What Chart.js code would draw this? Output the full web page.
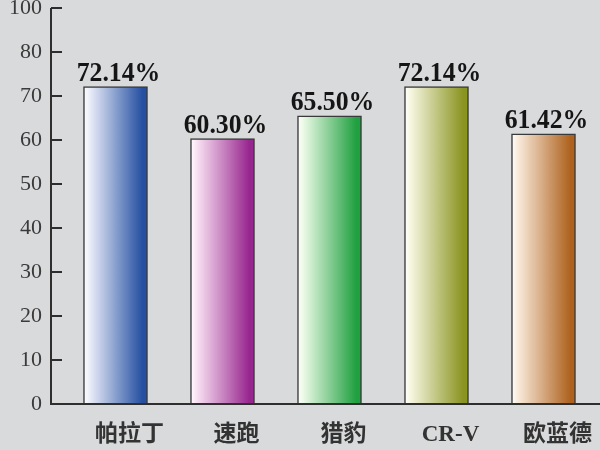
<!DOCTYPE html>
<html lang="zh">
<head>
  <meta charset="UTF-8">
  <title>车型比例</title>
  <script src="https://cdn.jsdelivr.net/npm/chart.js"></script>
  <style>
    html, body {
      margin: 0;
      padding: 0;
      background: #d9dadb;
      overflow: hidden;
    }
    .wrap {
      width: 600px;
      height: 450px;
    }
  </style>
</head>
<body>
  <div class="wrap"><canvas id="chart"></canvas></div>

  <script>
    // data
    const categories = ['帕拉丁', '速跑', '猎豹', 'CR-V', '欧蓝德'];
    const values = [72.14, 60.30, 65.50, 72.14, 61.42];
    const valueLabels = ['72.14%', '60.30%', '65.50%', '72.14%', '61.42%'];
    // the axis jumps from 80 straight to 100 (one step)
    const yTickLabels = ['0', '10', '20', '30', '40', '50', '60', '70', '80', '100'];

    // bar gradients: light left edge -> saturated right edge
    const lightColors = ['#eef0fa', '#fbe6f5', '#edfbe8', '#f8f8e4', '#fbeee0'];
    const darkColors = ['#2550a2', '#98268f', '#20a040', '#8a9420', '#ae621e'];

    const BAR_W = 64;

    function barGradient(ctx) {
      const chart = ctx.chart;
      if (!chart.chartArea) return darkColors[ctx.dataIndex];
      const cx = chart.scales.x.getPixelForValue(ctx.dataIndex);
      const g = chart.ctx.createLinearGradient(cx - BAR_W / 2, 0, cx + BAR_W / 2, 0);
      g.addColorStop(0, '#ffffff');
      g.addColorStop(0.08, lightColors[ctx.dataIndex]);
      g.addColorStop(0.92, darkColors[ctx.dataIndex]);
      g.addColorStop(1, darkColors[ctx.dataIndex]);
      return g;
    }

    // axis lines with inward tick marks, drawn from the y scale
    const axisPlugin = {
      id: 'axisLines',
      afterDatasetsDraw(chart) {
        const { ctx, chartArea } = chart;
        const y = chart.scales.y;
        const x0 = chartArea.left - 11;
        ctx.save();
        ctx.strokeStyle = '#2e2e2e';
        ctx.lineWidth = 2;
        ctx.beginPath();
        ctx.moveTo(x0, chartArea.top);
        ctx.lineTo(x0, chartArea.bottom);
        ctx.lineTo(chartArea.right + 3, chartArea.bottom);
        y.ticks.forEach(t => {
          const py = Math.round(y.getPixelForValue(t.value));
          ctx.moveTo(x0, py);
          ctx.lineTo(chartArea.left, py);
        });
        ctx.stroke();
        ctx.restore();
      }
    };

    // percentage labels above the bars
    const valueLabelPlugin = {
      id: 'valueLabels',
      afterDatasetsDraw(chart) {
        const { ctx } = chart;
        const meta = chart.getDatasetMeta(0);
        ctx.save();
        ctx.fillStyle = '#151515';
        ctx.font = 'bold 28px "Liberation Serif", serif';
        ctx.textAlign = 'center';
        ctx.textBaseline = 'alphabetic';
        meta.data.forEach((bar, i) => {
          ctx.save();
          ctx.translate(bar.x + 3, bar.y - 6);
          ctx.scale(0.92, 1);
          ctx.fillText(valueLabels[i], 0, 0);
          ctx.restore();
        });
        ctx.restore();
      }
    };

    new Chart(document.getElementById('chart'), {
      type: 'bar',
      data: {
        labels: categories,
        datasets: [{
          data: values,
          backgroundColor: barGradient,
          borderColor: '#3a3a3a',
          borderWidth: 1.5,
          borderSkipped: 'bottom',
          barThickness: BAR_W
        }]
      },
      options: {
        responsive: true,
        maintainAspectRatio: false,
        animation: false,
        layout: {
          padding: { top: 8, right: 3, left: 0, bottom: 0 }
        },
        plugins: {
          legend: { display: false },
          tooltip: { enabled: false }
        },
        scales: {
          x: {
            grid: { display: false, drawTicks: false },
            border: { display: false },
            ticks: {
              color: '#333',
              padding: 17,
              labelOffset: 14,
              font: { family: '"Liberation Serif", "Noto Sans CJK SC", serif', size: 23, weight: 'bold' }
            },
            afterFit(scale) {
              scale.height = 46;
              scale.paddingLeft = 0;
              scale.paddingRight = 0;
            }
          },
          y: {
            min: 0,
            max: 90,
            grid: { display: false, drawTicks: false },
            border: { display: false },
            ticks: {
              stepSize: 10,
              color: '#3a3a3a',
              padding: 20,
              font: { family: '"Liberation Serif", serif', size: 22 },
              callback: (v, i) => yTickLabels[i]
            },
            afterFit(scale) {
              scale.width = 62;
              scale.paddingTop = 0;
              scale.paddingBottom = 0;
            }
          }
        }
      },
      plugins: [axisPlugin, valueLabelPlugin]
    });
  </script>
</body>
</html>
